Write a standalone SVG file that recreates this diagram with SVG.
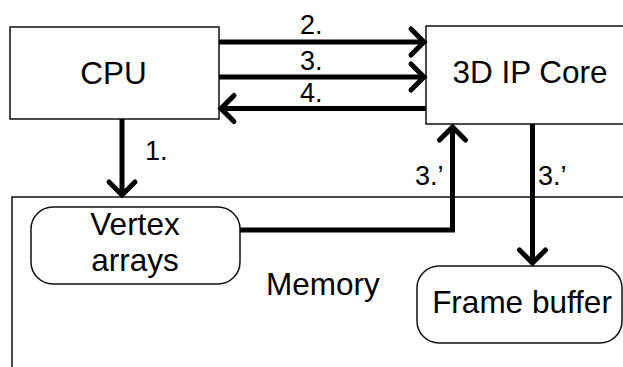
<svg xmlns="http://www.w3.org/2000/svg" width="623" height="367" viewBox="0 0 623 367">
<style>
.box{fill:#fff;stroke:#111;stroke-width:1.5}
.big{font-family:"Liberation Sans",Arial,sans-serif;font-size:31.5px;fill:#000}
.lbl{font-family:"Liberation Sans",Arial,sans-serif;font-size:27px;fill:#000}
.wire{fill:none;stroke:#000;stroke-width:5;stroke-linejoin:miter}
.head{fill:none;stroke:#000;stroke-width:5;stroke-linecap:round;stroke-linejoin:miter}
</style>
<rect width="623" height="367" fill="#fff"/>
<g id="memory">
<rect class="box" x="12" y="197" width="700" height="300"/>
<text class="big" x="266" y="295">Memory</text>
</g>
<g id="cpu">
<rect class="box" x="10" y="27" width="209" height="92"/>
<text class="big" x="113.5" y="84" text-anchor="middle">CPU</text>
</g>
<g id="ipcore">
<rect class="box" x="426" y="26" width="220" height="98"/>
<text class="big" x="530" y="83" text-anchor="middle">3D IP Core</text>
</g>
<g id="vertex">
<rect class="box" x="31" y="207" width="209" height="77" rx="22"/>
<text class="big" x="135" y="235" text-anchor="middle">Vertex</text>
<text class="big" x="135" y="271" text-anchor="middle">arrays</text>
</g>
<g id="framebuffer">
<rect class="box" x="417" y="266" width="205" height="77" rx="22"/>
<text class="big" x="522" y="313" text-anchor="middle">Frame buffer</text>
</g>
<g id="connectors">
<line class="wire" x1="219" y1="42" x2="424" y2="42"/>
<polyline class="head" points="411,29 424,42 411,55"/>
<line class="wire" x1="219" y1="77" x2="424" y2="77"/>
<polyline class="head" points="411,64 424,77 411,90"/>
<line class="wire" x1="426" y1="108.5" x2="221" y2="108.5"/>
<polyline class="head" points="234,95.5 221,108.5 234,121.5"/>
<line class="wire" x1="122" y1="119" x2="122" y2="195"/>
<polyline class="head" points="109,182 122,195 135,182"/>
<polyline class="wire" points="240,230 452.5,230 452.5,127"/>
<polyline class="head" points="439.5,140 452.5,127 465.5,140"/>
<line class="wire" x1="532.5" y1="124" x2="532.5" y2="263"/>
<polyline class="head" points="519.5,250 532.5,263 545.5,250"/>
<text class="lbl" x="300" y="34">2.</text>
<text class="lbl" x="300" y="70">3.</text>
<text class="lbl" x="300" y="102">4.</text>
<text class="lbl" x="145" y="160">1.</text>
<text class="lbl" x="415" y="185">3.’</text>
<text class="lbl" x="538" y="185">3.’</text>
</g>
</svg>
